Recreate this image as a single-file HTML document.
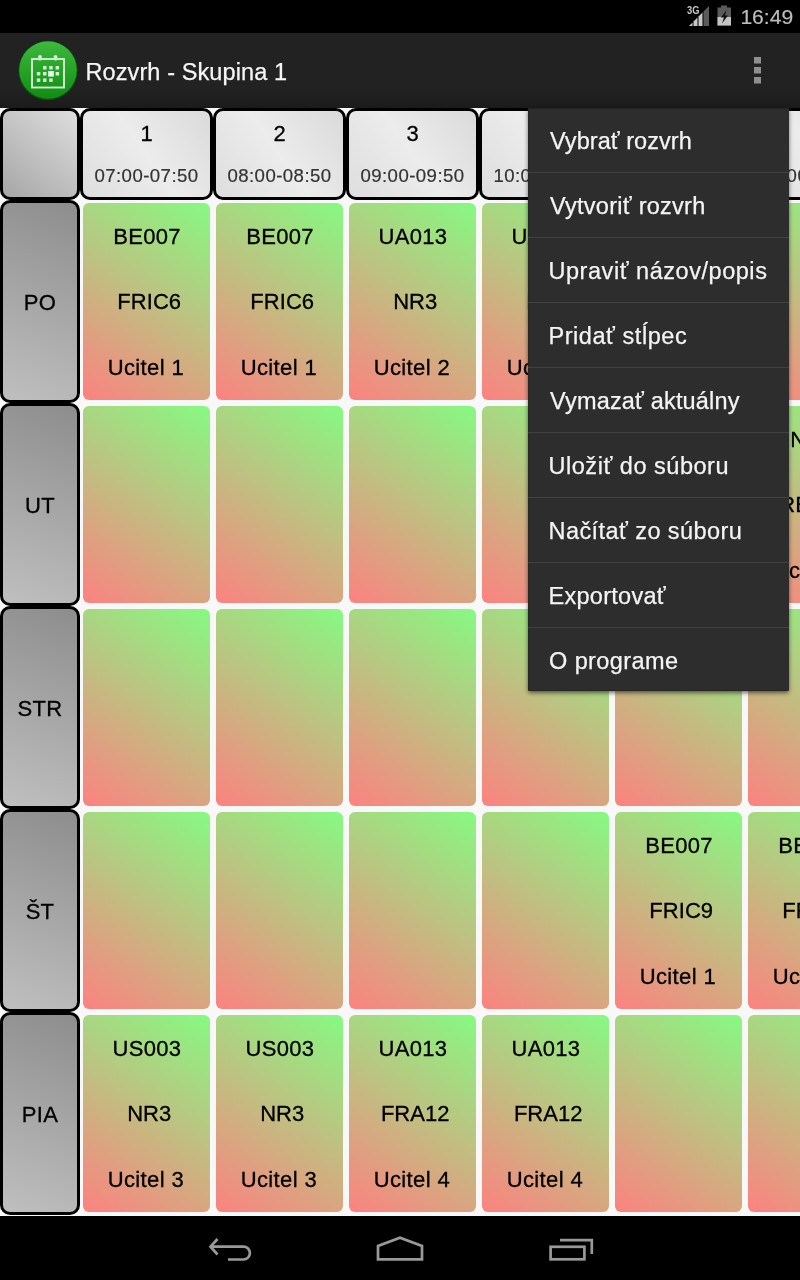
<!DOCTYPE html>
<html><head><meta charset="utf-8">
<style>
html,body{margin:0;padding:0}
body{width:800px;height:1280px;overflow:hidden;background:#f8f8f8;position:relative;font-family:"Liberation Sans",sans-serif;}
.abs{position:absolute}
#status{left:0;top:0;width:800px;height:33px;background:#000}
#abar{left:0;top:33px;width:800px;height:75px;background:linear-gradient(#222 0,#222 75%,#1b1b1b 100%)}
#title{left:85.5px;top:58px;font-size:23.5px;line-height:28px;color:#f6f6f6;white-space:nowrap;letter-spacing:.1px;-webkit-text-stroke:.25px #f6f6f6}
#clock{-webkit-text-stroke:.2px #bdbdbd;left:740.4px;top:5.3px;font-size:21.1px;line-height:24px;color:#bdbdbd;white-space:nowrap}
#nav{left:0;top:1216px;width:800px;height:64px;background:#000}
.g{position:absolute;box-sizing:border-box;border:3px solid #000;border-radius:10px}
.corner{background:linear-gradient(41deg,#a6a6a6,#dedede)}
.rh{background:linear-gradient(21.5deg,#bfbfbf,#8d8d8d)}
.ch{background:linear-gradient(55deg,#dedede,#ececec 50%,#dadada)}
.c{position:absolute;width:127px;height:197px;border-radius:6px;background:linear-gradient(32.8deg,#fc8280,#86fa82)}
.t{position:absolute;left:0;width:100%;text-align:center;font-size:22px;line-height:26px;color:#000;-webkit-text-stroke:.3px #000;white-space:nowrap}
.rh .t{top:86.5px;letter-spacing:.3px}
.num{top:10px}
.tm{-webkit-text-stroke:.2px #333;top:54px;font-size:18.6px;line-height:22px;color:#333;letter-spacing:.45px}
.l1{top:21px;letter-spacing:.3px;margin-left:.5px}.l2{top:86.4px;text-indent:5.5px;letter-spacing:.05px}.l3{top:151.6px;letter-spacing:.4px;margin-left:-.6px}
#menu{left:528px;top:108px;width:261px;height:583px;background:#2d2d2d;box-shadow:0 2px 4px rgba(0,0,0,.55),inset 1px 0 0 #262626,inset 0 -1px 0 #262626,inset 0 1px 0 #242424;border-radius:0 0 2px 2px;overflow:hidden}
.mi{height:64px;border-bottom:1px solid #414141;line-height:66px;padding-left:22px;font-size:23.5px;color:#f4f4f4;white-space:nowrap;-webkit-text-stroke:.25px #f4f4f4}
.mi:last-child{border-bottom:none}
</style></head><body>
<div id="grid">
<div class="g corner" style="left:0px;top:108px;width:80px;height:92px"></div>
<div class="g ch" style="left:80px;top:108px;width:133px;height:92px"><div class="t num">1</div><div class="t tm">07:00-07:50</div></div>
<div class="g ch" style="left:213px;top:108px;width:133px;height:92px"><div class="t num">2</div><div class="t tm">08:00-08:50</div></div>
<div class="g ch" style="left:346px;top:108px;width:133px;height:92px"><div class="t num">3</div><div class="t tm">09:00-09:50</div></div>
<div class="g ch" style="left:479px;top:108px;width:133px;height:92px"><div class="t num">4</div><div class="t tm">10:00-10:50</div></div>
<div class="g ch" style="left:612px;top:108px;width:133px;height:92px"><div class="t num">5</div><div class="t tm">11:00-11:50</div></div>
<div class="g ch" style="left:745px;top:108px;width:133px;height:92px"><div class="t num">6</div><div class="t tm">12:00-12:50</div></div>
<div class="g rh" style="left:0px;top:200px;width:80px;height:203px"><div class="t">PO</div></div>
<div class="c" style="left:83px;top:203px"><div class="t l1">BE007</div><div class="t l2">FRIC6</div><div class="t l3">Ucitel 1</div></div>
<div class="c" style="left:216px;top:203px"><div class="t l1">BE007</div><div class="t l2">FRIC6</div><div class="t l3">Ucitel 1</div></div>
<div class="c" style="left:349px;top:203px"><div class="t l1">UA013</div><div class="t l2">NR3</div><div class="t l3">Ucitel 2</div></div>
<div class="c" style="left:482px;top:203px"><div class="t l1">UA013</div><div class="t l2">NR3</div><div class="t l3">Ucitel 2</div></div>
<div class="c" style="left:615px;top:203px"></div>
<div class="c" style="left:748px;top:203px"></div>
<div class="g rh" style="left:0px;top:403px;width:80px;height:203px"><div class="t">UT</div></div>
<div class="c" style="left:83px;top:406px"></div>
<div class="c" style="left:216px;top:406px"></div>
<div class="c" style="left:349px;top:406px"></div>
<div class="c" style="left:482px;top:406px"></div>
<div class="c" style="left:615px;top:406px"></div>
<div class="c" style="left:748px;top:406px"><div class="t l1" style="text-indent:4px">IN001</div><div class="t l2">REA12</div><div class="t l3">Ucitel 5</div></div>
<div class="g rh" style="left:0px;top:606px;width:80px;height:203px"><div class="t">STR</div></div>
<div class="c" style="left:83px;top:609px"></div>
<div class="c" style="left:216px;top:609px"></div>
<div class="c" style="left:349px;top:609px"></div>
<div class="c" style="left:482px;top:609px"></div>
<div class="c" style="left:615px;top:609px"></div>
<div class="c" style="left:748px;top:609px"></div>
<div class="g rh" style="left:0px;top:809px;width:80px;height:203px"><div class="t">ŠT</div></div>
<div class="c" style="left:83px;top:812px"></div>
<div class="c" style="left:216px;top:812px"></div>
<div class="c" style="left:349px;top:812px"></div>
<div class="c" style="left:482px;top:812px"></div>
<div class="c" style="left:615px;top:812px"><div class="t l1">BE007</div><div class="t l2">FRIC9</div><div class="t l3">Ucitel 1</div></div>
<div class="c" style="left:748px;top:812px"><div class="t l1">BE007</div><div class="t l2">FRIC9</div><div class="t l3">Ucitel 1</div></div>
<div class="g rh" style="left:0px;top:1012px;width:80px;height:203px"><div class="t">PIA</div></div>
<div class="c" style="left:83px;top:1015px"><div class="t l1">US003</div><div class="t l2">NR3</div><div class="t l3">Ucitel 3</div></div>
<div class="c" style="left:216px;top:1015px"><div class="t l1">US003</div><div class="t l2">NR3</div><div class="t l3">Ucitel 3</div></div>
<div class="c" style="left:349px;top:1015px"><div class="t l1">UA013</div><div class="t l2">FRA12</div><div class="t l3">Ucitel 4</div></div>
<div class="c" style="left:482px;top:1015px"><div class="t l1">UA013</div><div class="t l2">FRA12</div><div class="t l3">Ucitel 4</div></div>
<div class="c" style="left:615px;top:1015px"></div>
<div class="c" style="left:748px;top:1015px"></div>
</div><!--endgrid-->
<div class="abs" id="status"></div>
<div class="abs" id="abar"></div>
<svg class="abs" style="left:0;top:0" width="800" height="108" viewBox="0 0 800 108">
<defs>
<linearGradient id="gg" x1="0" y1="0" x2="0" y2="1"><stop offset="0" stop-color="#3cba3c"/><stop offset="1" stop-color="#118c14"/></linearGradient>
</defs>
<circle cx="48" cy="70.6" r="29.7" fill="#0b4f0b"/>
<circle cx="48" cy="70" r="28.8" fill="url(#gg)"/>
<g fill="none" stroke="#d6ecd6" stroke-width="1.9"><rect x="32" y="59" width="32" height="28.5"/></g>
<g fill="#d3ead3">
<rect x="38.2" y="55" width="3.6" height="5.5" rx="1.5"/><rect x="53.7" y="55" width="3.6" height="5.5" rx="1.5"/>
<rect x="43" y="66" width="3.5" height="3.5"/><rect x="49.2" y="66" width="3.5" height="3.5"/><rect x="55.6" y="66" width="3.5" height="3.5"/>
<rect x="36.8" y="72" width="3.5" height="3.5"/><rect x="43" y="72" width="3.5" height="3.5"/><rect x="48.2" y="71" width="5.6" height="5.6" fill="#eef7ee"/><rect x="55.6" y="72" width="3.5" height="3.5"/>
<rect x="36.8" y="78.4" width="3.5" height="3.5"/><rect x="43" y="78.4" width="3.5" height="3.5"/><rect x="49.2" y="78.4" width="3.5" height="3.5"/>
</g>
<g fill="#8f8f8f"><rect x="754" y="57" width="7" height="6.5"/><rect x="754" y="67" width="7" height="6.5"/><rect x="754" y="77" width="7" height="6.5"/></g>
<!-- signal -->
<g>
<path d="M689 26 L692.5 22.5 L692.5 26 Z" fill="#c8c8c8"/>
<path d="M693.5 26 L693.5 21.5 L697.5 17.5 L697.5 26 Z" fill="#c8c8c8"/>
<path d="M698.5 26 L698.5 16.5 L702.5 12.5 L702.5 26 Z" fill="#c8c8c8"/>
<path d="M703.5 26 L703.5 11.5 L709 6 L709 26 Z" fill="#5a5a5a"/>
<text x="687" y="14" font-family="Liberation Sans, sans-serif" font-weight="bold" font-size="11" fill="#c8c8c8" textLength="12.5" lengthAdjust="spacingAndGlyphs">3G</text>
</g>
<!-- battery -->
<g>
<rect x="721" y="5.5" width="6" height="3" fill="#5a5a5a"/>
<rect x="717.5" y="7.5" width="13.5" height="18" fill="#5a5a5a"/>
<rect x="717.5" y="17" width="13.5" height="8.5" fill="#c4c4c4"/>
<path d="M726.5 10 L721 17.5 L724 17.5 L722 23.5 L728 15.5 L725 15.5 Z" fill="#111"/>
</g>
</svg>
<div class="abs" id="nav"></div>
<svg class="abs" style="left:0;top:1216px" width="800" height="64" viewBox="0 1216 800 64">
<g fill="none" stroke="#999" stroke-width="2.7">
<path d="M217.5 1239 L210.5 1246.7 L217.5 1254.5 M210.5 1246.7 L243.5 1246.7 A6.4 6.4 0 0 1 243.5 1259.5 L228 1259.5"/>
<path d="M378 1259.3 L378 1246 L400 1237.8 L422 1246 L422 1259.3 Z"/>
<rect x="550.6" y="1246.8" width="33.8" height="12.5"/>
<path d="M560 1240.2 L591.8 1240.2 L591.8 1254"/>
</g>
</svg>
<div class="abs" id="title">Rozvrh - Skupina 1</div>
<div class="abs" id="clock">16:49</div>
<div class="abs" id="menu">
<div class="mi" style="letter-spacing:0.05px;text-indent:0px">Vybrať rozvrh</div>
<div class="mi" style="letter-spacing:0.26px;text-indent:0px">Vytvoriť rozvrh</div>
<div class="mi" style="letter-spacing:0.54px;text-indent:-1.5px">Upraviť názov/popis</div>
<div class="mi" style="letter-spacing:0.55px;text-indent:-1.5px">Pridať stĺpec</div>
<div class="mi" style="letter-spacing:0.17px;text-indent:0px">Vymazať aktuálny</div>
<div class="mi" style="letter-spacing:0.53px;text-indent:-1.5px">Uložiť do súboru</div>
<div class="mi" style="letter-spacing:0.43px;text-indent:-1.5px">Načítať zo súboru</div>
<div class="mi" style="letter-spacing:0.28px;text-indent:-1.5px">Exportovať</div>
<div class="mi" style="letter-spacing:0.41px;text-indent:-1px">O programe</div>
</div>
</body></html>
